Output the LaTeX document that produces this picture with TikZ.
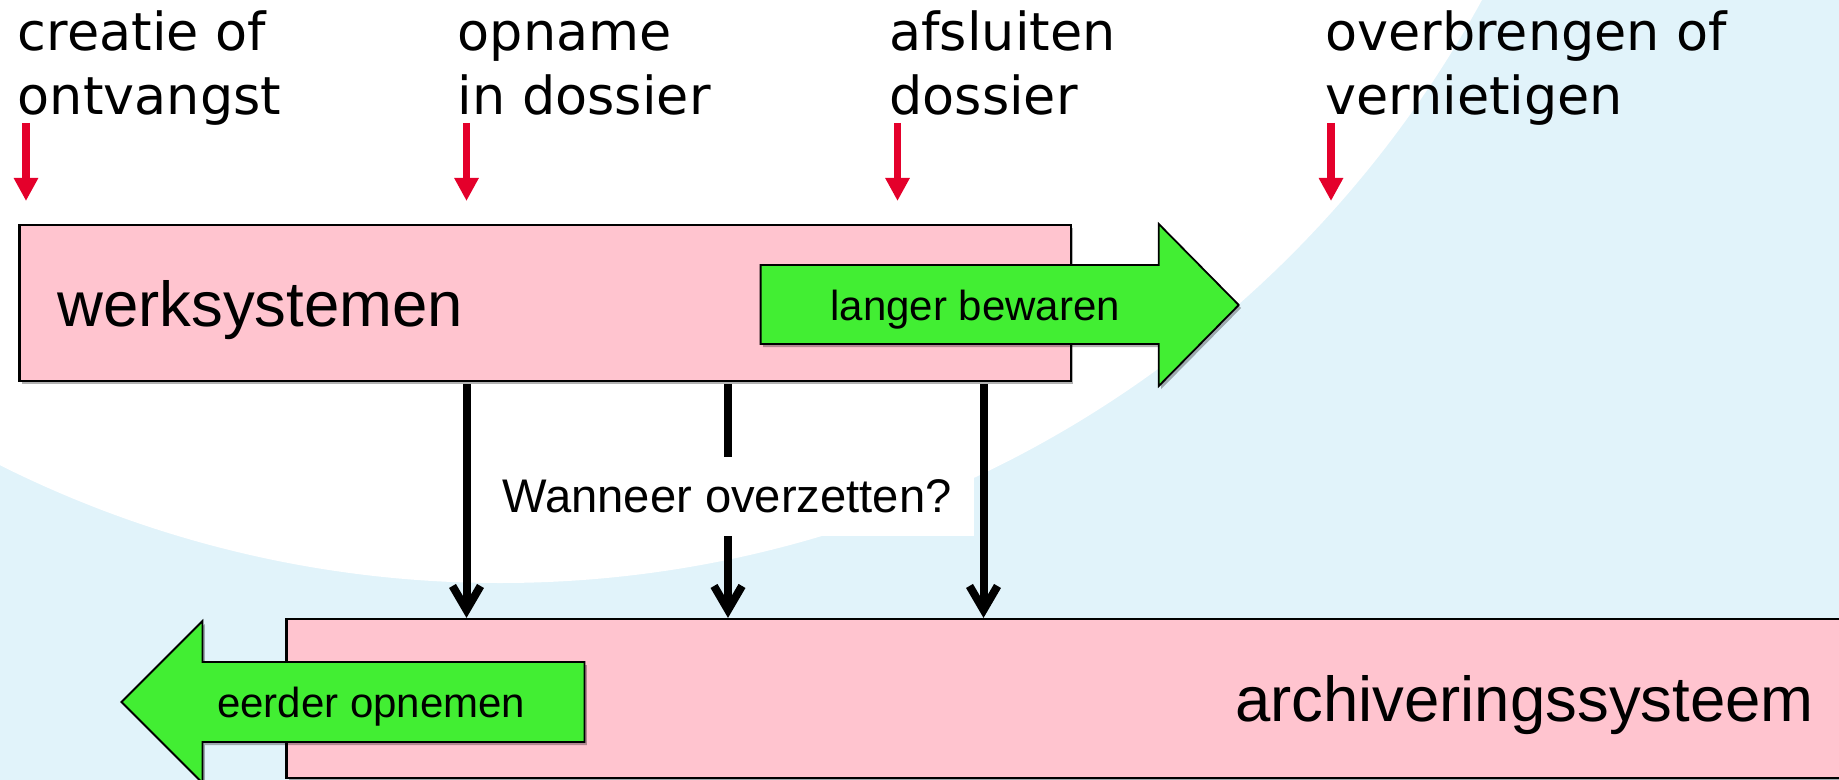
\documentclass[tikz,border=0pt]{standalone}
\usepackage{fontspec}
\setmainfont{Liberation Sans}
\newfontfamily\labelfont{DejaVu Sans}
\usetikzlibrary{arrows.meta,shadows}
\definecolor{bgblue}{HTML}{E1F3FA}
\definecolor{boxpink}{HTML}{FFC4CF}
\definecolor{arrgreen}{HTML}{42EE33}
\definecolor{tickred}{HTML}{E4002B}
\begin{document}
\begin{tikzpicture}[x=0.5pt,y=-0.5pt,
  softshadow/.style={drop shadow={shadow xshift=1.2pt,shadow yshift=-1.5pt,opacity=0.3,fill=black}},
  sysbox/.style={draw=black,line width=1.1pt,fill=boxpink,inner sep=0pt,softshadow},
  bigtext/.style={font=\fontsize{31.75}{38}\selectfont,inner sep=0pt,anchor=base west},
  greentext/.style={font=\fontsize{21}{25}\selectfont,inner sep=0pt,anchor=base west},
  phase/.style={font=\labelfont\fontsize{26.2}{32}\selectfont,inner sep=0pt,anchor=base west},
  greenarrow/.style={draw=black,line width=0.9pt,fill=arrgreen,line join=miter,softshadow},
  redtick/.style={draw=tickred,line width=3.85pt,-{Triangle[length=11.5pt,width=11.5pt]}},
  flow/.style={draw=black,line width=4pt,-{Straight Barb[length=12pt,width=14pt]}}]
\useasboundingbox (0,0) rectangle (1839,780);
\clip (0,0) rectangle (1839,780);
% background
\fill[bgblue] (0,0) rectangle (1839,780);
\fill[white] (500,-535) circle[radius=559pt];
% phase labels
\node[phase] (c1a) at (17.5,51) {creatie of};
\node[phase] (c1b) at (17.5,115) {ontvangst};
\node[phase] (c2a) at (457.5,51) {opname};
\node[phase] (c2b) at (457.5,115) {in dossier};
\node[phase] (c3a) at (889,51) {afsluiten};
\node[phase] (c3b) at (889,115) {dossier};
\node[phase] (c4a) at (1325,51) {overbrengen of};
\node[phase] (c4b) at (1325,115) {vernietigen};
% red ticks
\coordinate (r1s) at (26,123);   \coordinate (r1e) at (26,201);
\coordinate (r2s) at (466.5,123); \coordinate (r2e) at (466.5,201);
\coordinate (r3s) at (897.5,123); \coordinate (r3e) at (897.5,201);
\coordinate (r4s) at (1331,123); \coordinate (r4e) at (1331,201);
\draw[redtick] (r1s) -- (r1e);
\draw[redtick] (r2s) -- (r2e);
\draw[redtick] (r3s) -- (r3e);
\draw[redtick] (r4s) -- (r4e);
% systems
\node[sysbox,minimum width=525.8pt,minimum height=78pt] (werk) at (545.2,303) {};
\node[sysbox,minimum width=791.8pt,minimum height=79.5pt] (arch) at (1078.2,698.5) {};
\node[bigtext] (werktxt) at (57,327) {werksystemen};
\node[bigtext] (archtxt) at (1234.6,721.7) {archiveringssysteem};
% transfer arrows
\coordinate (x1) at (466.5,0);
\coordinate (x2) at (728,0);
\coordinate (x3) at (983.5,0);
\draw[flow] ([yshift=-1pt]werk.south -| x1) -- (arch.north -| x1);
\draw[flow] ([yshift=-1pt]werk.south -| x2) -- (arch.north -| x2);
\draw[flow] ([yshift=-1pt]werk.south -| x3) -- (arch.north -| x3);
\node[fill=white,inner sep=0pt,minimum width=247pt,minimum height=39.5pt,
  font=\fontsize{23.6}{28}\selectfont] (vraag) at (727,496.5) {Wanneer overzetten?};
% green arrows
\draw[greenarrow] (760.6,265) -- (1158.8,265) -- (1158.8,224) -- (1238.7,305)
  -- (1158.8,386) -- (1158.8,344) -- (760.6,344) -- cycle;
\node[greentext] (langer) at (830,321) {langer bewaren};
\draw[greenarrow] (584.5,662) -- (202.5,662) -- (202.5,621) -- (121.5,702)
  -- (202.5,783) -- (202.5,742) -- (584.5,742) -- cycle;
\node[greentext] (eerder) at (216.6,717.3) {eerder opnemen};
\end{tikzpicture}
\end{document}
